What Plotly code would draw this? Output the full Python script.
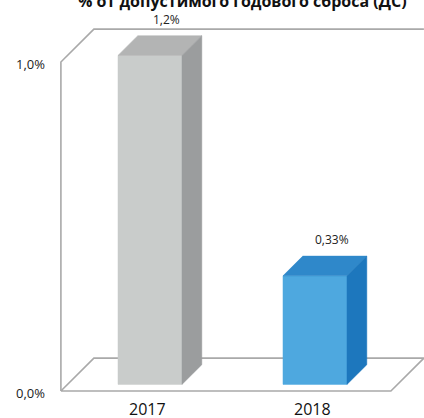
import plotly.graph_objects as go

# Data
years = ["2017", "2018"]
values = [1.2, 0.33]            # % of permitted annual discharge
value_labels = ["1,2%", "0,33%"]
axis_max = 1.0
tick_values = [0.0, 1.0]
tick_labels = ["0,0%", "1,0%"]
title_text = "% от допустимого годового сброса (ДС)"

# Colours per bar: front, top, side
bar_colors = [
    ("#c9cccb", "#b3b4b4", "#9b9d9e"),
    ("#4ea8df", "#2f88ca", "#1d77bd"),
]
frame_color = "#a9a9a9"

# Pseudo-3D projection: depth d in [0, 1] shifts points right and up
DX, DY = 0.2, 0.1
BAR_W = 0.388
D_FRONT, D_BACK = 0.2, 0.8


def proj(x, v, d):
    return x + DX * d, v + DY * d


def poly(points):
    xs, ys = zip(*[proj(*p) for p in points])
    return list(xs) + [xs[0]], list(ys) + [ys[0]]


fig = go.Figure()

# Floor and left/back wall outline
x0, x1 = -0.5, len(years) - 0.5
fx, fy = poly([(x0, 0, 0), (x1, 0, 0), (x1, 0, 1), (x0, 0, 1)])
fig.add_trace(go.Scatter(x=fx, y=fy, mode="lines",
                         line=dict(color=frame_color, width=1.6)))
wx, wy = zip(*[proj(*p) for p in [(x0, 0, 0), (x0, axis_max, 0),
                                   (x0, axis_max, 1), (x1, axis_max, 1)]])
fig.add_trace(go.Scatter(x=list(wx), y=list(wy), mode="lines",
                         line=dict(color=frame_color, width=1.6)))

# Bars (clipped to the axis maximum)
for i, (val, (c_front, c_top, c_side)) in enumerate(zip(values, bar_colors)):
    v = min(val, axis_max)
    l, r = i - BAR_W / 2, i + BAR_W / 2
    faces = [
        ([(l, 0, D_FRONT), (r, 0, D_FRONT), (r, v, D_FRONT), (l, v, D_FRONT)], c_front),
        ([(l, v, D_FRONT), (r, v, D_FRONT), (r, v, D_BACK), (l, v, D_BACK)], c_top),
        ([(r, 0, D_FRONT), (r, v, D_FRONT), (r, v, D_BACK), (r, 0, D_BACK)], c_side),
    ]
    for pts, col in faces:
        px, py = poly(pts)
        fig.add_trace(go.Scatter(x=px, y=py, mode="lines", fill="toself",
                                 fillcolor=col, line=dict(color=col, width=0.5)))
    lx, ly = proj(i, v, 0.7)
    fig.add_annotation(x=lx, y=ly + DY * 0.1, text=value_labels[i],
                       showarrow=False, yanchor="bottom", yshift=6,
                       font=dict(family="Open Sans", size=12, color="#222222"))
    cx, _ = proj(i, 0, 0.12)
    fig.add_annotation(x=cx, y=-0.054, text=years[i], showarrow=False,
                       yanchor="middle",
                       font=dict(family="Open Sans", size=16, color="#111111"))

# Value axis labels on the front plane
for tv, tl in zip(tick_values, tick_labels):
    fig.add_annotation(x=-0.584, y=tv, text=tl, showarrow=False,
                       xanchor="right", yanchor="middle", yshift=-2,
                       font=dict(family="Open Sans", size=13, color="#222222"))

fig.add_annotation(xref="paper", yref="paper", x=243 / 424, y=1 - 1 / 418,
                   text="<b>" + title_text + "</b>", showarrow=False,
                   xanchor="center", yanchor="middle",
                   font=dict(family="Open Sans", size=16, color="#111111"))

fig.update_layout(
    width=424, height=418,
    margin=dict(l=0, r=0, t=0, b=0),
    paper_bgcolor="white", plot_bgcolor="white",
    showlegend=False, hovermode=False,
    xaxis=dict(range=[-0.8691, 1.7006], visible=False, fixedrange=True),
    yaxis=dict(range=[-0.08207, 1.18845], visible=False, fixedrange=True),
)

fig.write_html("out.html")
